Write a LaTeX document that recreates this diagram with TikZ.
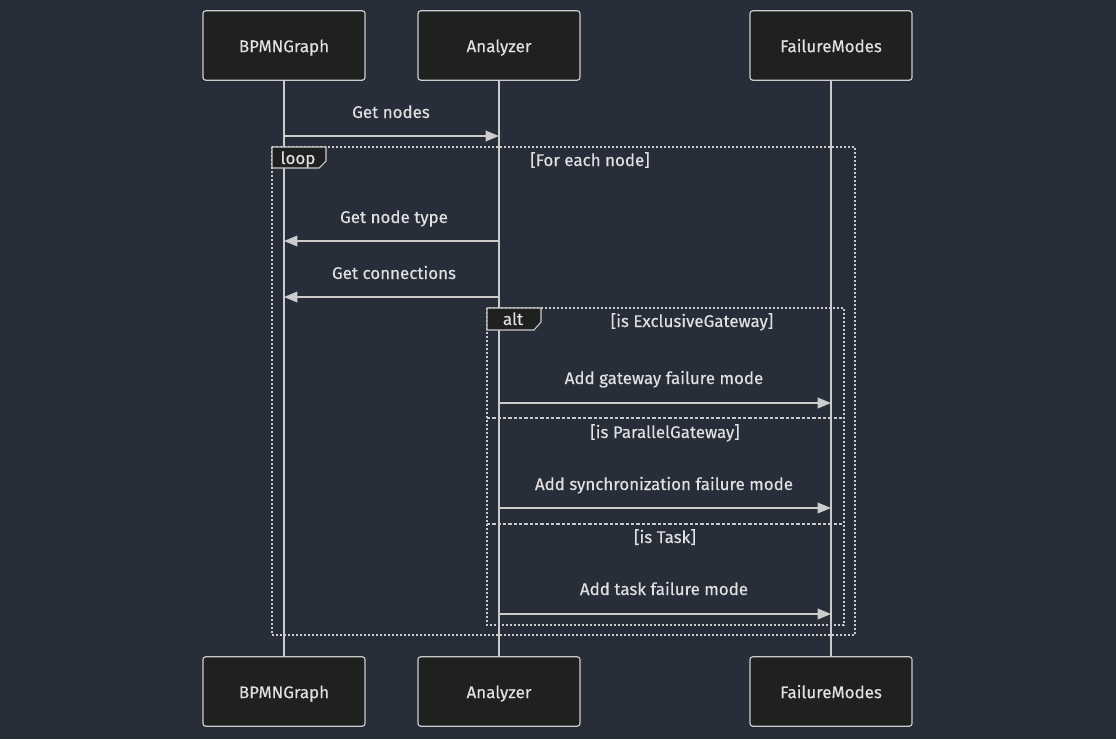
\documentclass[tikz,border=0pt]{standalone}
\usepackage{fontspec}
\setmainfont{Fira Sans}
\newfontfamily\mfont{Fira Sans}[FakeBold=0.35]
\usetikzlibrary{arrows.meta}
\definecolor{bg}{RGB}{40,45,58}
\definecolor{boxfill}{RGB}{31,32,32}
\definecolor{fg}{RGB}{204,204,204}
\definecolor{txt}{RGB}{224,224,224}
\tikzset{
  actor/.style={draw=fg, fill=boxfill, line width=0.9pt, rounded corners=2pt, minimum width=121.5pt, minimum height=52pt, inner sep=0pt, text=txt, font=\mfont\fontsize{12.7}{15}\selectfont, text height=8.5pt, text depth=2.5pt},
  life/.style={draw=fg, line width=1.2pt},
  msg/.style={draw=fg, line width=1.1pt, -{Triangle[length=10pt,width=8pt]}},
  lbl/.style={text=txt, font=\mfont\fontsize{12.7}{15}\selectfont, inner sep=0pt, text height=8.5pt, text depth=2.5pt, yshift=-1.5pt},
  frame/.style={draw=fg, line width=1.4pt, dash pattern=on 1.5pt off 1.5pt},
  sep/.style={draw=fg, line width=1.2pt, dash pattern=on 2.5pt off 1.5pt},
  tab/.style={draw=fg, fill=boxfill, line width=0.8pt},
}
\begin{document}
\begin{tikzpicture}[x=0.75pt,y=-0.75pt]
\useasboundingbox[fill=bg] (0,0) rectangle (1116,739);
% actors
\node[actor] (bt) at (284,45.5) {\raisebox{-2pt}{BPMNGraph}};
\node[actor] (at) at (499,45.5) {\raisebox{-2pt}{Analyzer}};
\node[actor] (ft) at (831,45.5) {\raisebox{-2pt}{FailureModes}};
\node[actor] (bb) at (284,691.5) {\raisebox{-2pt}{BPMNGraph}};
\node[actor] (ab) at (499,691.5) {\raisebox{-2pt}{Analyzer}};
\node[actor] (fb) at (831,691.5) {\raisebox{-2pt}{FailureModes}};
% lifelines
\draw[life] (bt.south) -- (bb.north);
\draw[life] (at.south) -- (ab.north);
\draw[life] (ft.south) -- (fb.north);
% loop frame
\draw[frame] (272,147) rectangle (855,635);
\draw[tab] (272,147) -- (326,147) -- (326,161) -- (319,168) -- (272,168) -- cycle;
\node[lbl] (looplbl) at (298,158) {loop};
\node[lbl] (loopcond) at (590,160) {[For each node]};
% alt frame
\draw[frame] (487,308) rectangle (844,625);
\draw[tab] (487,308) -- (541,308) -- (541,322) -- (534,330) -- (487,330) -- cycle;
\node[lbl] (altlbl) at (513,319) {alt};
\node[lbl] (c1) at (692,321) {[is ExclusiveGateway]};
\draw[sep] (487,418) -- (844,418);
\node[lbl] (c2) at (665,432) {[is ParallelGateway]};
\draw[sep] (487,524) -- (844,524);
\node[lbl] (c3) at (665,537) {[is Task]};
% message anchors
\coordinate (b1) at (284,136); \coordinate (a1) at (499,136);
\coordinate (a2) at (499,241); \coordinate (b2) at (284,241);
\coordinate (a3) at (499,297); \coordinate (b3) at (284,297);
\coordinate (a4) at (499,403); \coordinate (f4) at (831,403);
\coordinate (a5) at (499,508); \coordinate (f5) at (831,508);
\coordinate (a6) at (499,614); \coordinate (f6) at (831,614);
% messages
\draw[msg] (b1) -- (a1);
\node[lbl] (m1) at (391,112) {Get nodes};
\draw[msg] (a2) -- (b2);
\node[lbl] (m2) at (394,217) {Get node type};
\draw[msg] (a3) -- (b3);
\node[lbl] (m3) at (394,273) {Get connections};
\draw[msg] (a4) -- (f4);
\node[lbl] (m4) at (664,378) {Add gateway failure mode};
\draw[msg] (a5) -- (f5);
\node[lbl] (m5) at (664,484) {Add synchronization failure mode};
\draw[msg] (a6) -- (f6);
\node[lbl] (m6) at (664,589) {Add task failure mode};
\end{tikzpicture}
\end{document}
